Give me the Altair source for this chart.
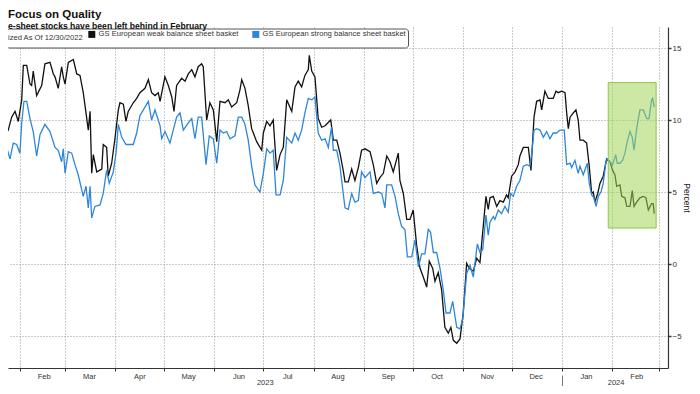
import altair as alt
import pandas as pd

# ---------------- data ----------------
series_names = ["GS European weak balance sheet basket",
                "GS European strong balance sheet basket"]
series_colors = ["#111111", "#2e86d9"]

# day offsets counted from 2023-01-01
weak_days = [18.9, 20.0, 22.0, 24.0, 26.1, 28.2, 30.2, 32.3, 33.3, 35.4, 37.4, 38.4, 39.4, 41.5,
             44.6, 46.6, 49.7, 51.8, 52.8, 54.8, 56.9, 57.9, 59.0, 61.0, 64.1, 66.2, 68.2, 70.2,
             71.9, 73.3, 74.4, 75.4, 76.4, 78.5, 81.6, 82.5, 84.6, 85.6, 87.7, 89.7, 91.8, 92.8,
             94.9, 96.5, 97.9, 101.0, 103.1, 105.1, 108.2, 110.3, 112.3, 114.4, 116.4, 117.5,
             120.5, 122.6, 124.7, 126.1, 127.7, 130.8, 132.9, 134.9, 137.0, 139.0, 141.0, 143.1,
             144.1, 146.2, 148.2, 150.3, 152.4, 154.4, 157.5, 159.5, 161.6, 164.7, 166.7, 167.8,
             169.8, 171.8, 173.9, 177.0, 180.1, 181.1, 183.2, 185.2, 187.2, 189.3, 191.4, 193.4,
             195.5, 198.6, 200.6, 202.6, 204.7, 206.7, 208.8, 209.4, 210.9, 212.9, 214.9, 217.0,
             219.1, 222.6, 224.2, 226.3, 228.3, 230.3, 231.4, 233.4, 235.5, 237.5, 239.6, 241.6,
             243.7, 246.8, 248.8, 250.9, 252.9, 255.0, 257.1, 259.1, 261.1, 264.2, 265.2, 267.3,
             269.4, 271.4, 273.4, 275.5, 277.6, 279.6, 281.7, 283.3, 285.4, 286.8, 288.8, 290.9,
             292.9, 295.0, 296.6, 298.1, 300.2, 302.2, 304.2, 306.3, 307.9, 310.4, 312.5, 314.5,
             316.5, 318.2, 319.6, 320.7, 322.7, 324.8, 326.8, 328.9, 330.9, 331.9, 334.0, 336.1,
             338.1, 339.1, 341.2, 344.3, 345.9, 347.8, 349.4, 351.5, 352.5, 354.5, 356.6, 359.6,
             361.3, 362.7, 364.8, 366.9, 367.9, 368.9, 370.0, 372.0, 373.6, 375.0, 376.1, 378.1,
             380.2, 381.8, 383.3, 384.3, 385.3, 387.0, 388.4, 390.4, 391.1, 392.5, 394.6, 396.2,
             397.6, 398.7, 400.7, 401.8, 403.8, 404.9, 406.9, 408.3, 409.4, 411.0, 413.0, 415.1,
             416.7, 418.2, 420.2, 421.2, 421.8]
weak_vals = [10.2, 8.8, 9.5, 9.3, 10.2, 10.6, 9.9, 11.4, 13.8, 13.8, 12.5, 12.4, 13.4, 11.7,
             12.4, 13.9, 14.0, 13.2, 13.0, 12.2, 13.7, 13.0, 12.5, 14.0, 14.2, 13.2, 13.1, 11.9,
             10.5, 9.3, 10.6, 6.3, 7.6, 6.4, 6.6, 8.3, 8.1, 6.1, 7.0, 8.7, 10.7, 11.2,
             11.1, 9.9, 10.6, 11.2, 11.5, 11.9, 12.2, 12.8, 11.9, 11.7, 11.9, 11.3,
             13.0, 12.4, 11.6, 10.6, 12.4, 12.9, 12.7, 13.2, 13.5, 13.0, 13.7, 13.9,
             13.7, 10.0, 11.2, 10.7, 8.5, 11.3, 11.2, 11.4, 10.9, 11.2, 12.1, 12.8,
             12.2, 11.0, 9.4, 8.5, 7.9, 9.1, 9.9, 9.6, 10.0, 6.5, 7.6, 8.1,
             11.4, 10.6, 12.3, 12.7, 12.3, 13.1, 13.5, 14.5, 13.4, 13.0, 10.1, 9.5,
             9.6, 10.0, 8.6, 8.6, 7.7, 6.5, 5.7, 5.7, 6.6, 5.8, 6.7, 7.9,
             8.0, 7.8, 6.9, 5.6, 6.0, 6.3, 7.5, 7.1, 6.4, 7.7, 5.8, 4.9,
             3.1, 3.1, 3.75, 1.3, -0.3, -0.9, -1.6, 0.2, -0.3, -1.2, -0.6, -1.8,
             -4.4, -4.8, -4.4, -5.3, -5.5, -5.2, -3.4, 0.05, -0.3, -0.5, 0.4, 0.1,
             2.6, 4.7, 3.8, 4.6, 4.7, 4.0, 4.4, 4.3, 4.8, 4.6, 6.1, 6.4,
             6.9, 7.5, 8.1, 8.1, 6.5, 10.2, 11.3, 11.4, 10.7, 12.0, 11.5, 11.5,
             12.0, 11.9, 12.0, 11.9, 10.5, 9.4, 10.2, 10.5, 10.7, 10.0, 8.6, 8.6,
             8.4, 6.8, 4.9, 5.0, 4.3, 4.9, 5.6, 6.1, 6.5, 7.3, 7.1, 6.5,
             6.2, 5.4, 5.5, 4.7, 4.6, 4.0, 4.0, 5.1, 4.0, 4.3, 4.6, 4.7,
             4.6, 3.75, 4.2, 4.2, 3.5]

strong_days = [18.9, 20.0, 22.0, 23.0, 25.1, 27.1, 29.2, 31.2, 32.3, 33.7, 35.4, 37.4, 39.4, 41.5,
               43.6, 46.6, 49.7, 52.8, 54.8, 56.9, 57.9, 59.0, 61.0, 63.1, 65.1, 67.1, 70.2, 71.9,
               73.3, 74.4, 75.4, 77.4, 80.5, 82.5, 84.6, 86.2, 88.7, 90.4, 91.8, 93.9, 96.5, 101.0,
               103.1, 105.1, 107.2, 110.3, 112.3, 114.4, 116.4, 117.5, 118.5, 120.5, 123.6, 125.6,
               127.7, 129.8, 131.8, 134.9, 137.0, 139.0, 141.0, 143.1, 145.8, 147.8, 150.3, 152.4,
               154.4, 156.4, 158.5, 160.6, 163.6, 165.7, 167.8, 169.8, 171.8, 173.9, 175.9, 179.0,
               181.1, 183.2, 185.2, 187.2, 188.9, 191.4, 193.4, 195.5, 198.6, 200.6, 202.6, 204.7,
               206.7, 208.8, 210.9, 212.9, 214.9, 217.0, 219.1, 221.1, 223.1, 224.2, 226.3, 228.3,
               230.3, 231.4, 233.4, 235.5, 237.5, 239.6, 241.6, 243.7, 246.8, 248.8, 251.9, 254.0,
               256.0, 257.1, 260.1, 262.2, 264.2, 266.3, 268.3, 269.8, 272.5, 274.5, 276.6, 278.6,
               280.6, 282.7, 284.1, 285.8, 287.8, 289.9, 291.9, 293.6, 296.0, 297.7, 300.2, 302.2,
               303.9, 306.3, 308.4, 310.4, 312.9, 314.5, 316.2, 318.2, 319.6, 320.7, 322.7, 323.7,
               325.8, 327.8, 329.9, 331.9, 333.4, 335.0, 337.1, 339.1, 341.2, 343.3, 345.3, 346.4,
               347.8, 349.4, 351.5, 353.5, 355.6, 357.6, 359.6, 361.7, 363.8, 366.4, 367.9, 370.0,
               371.0, 373.0, 375.0, 376.1, 378.1, 380.6, 381.8, 383.3, 384.7, 386.0, 387.4, 389.0,
               390.4, 392.1, 392.9, 394.6, 396.2, 398.1, 399.0, 400.7, 402.3, 403.8, 405.2, 406.9,
               408.3, 409.4, 411.0, 413.0, 415.1, 417.2, 418.6, 420.2, 420.9, 421.8]
strong_vals = [7.9, 6.8, 7.0, 8.1, 7.3, 8.4, 8.3, 7.7, 9.8, 11.3, 11.3, 10.1, 9.2, 7.5,
               9.0, 9.7, 9.2, 8.1, 7.9, 7.1, 8.0, 6.3, 7.8, 7.7, 6.9, 6.2, 4.7, 5.4,
               3.9, 5.4, 3.2, 4.0, 4.1, 4.9, 6.5, 5.6, 6.4, 7.7, 9.7, 8.8, 8.3, 8.3,
               9.1, 10.3, 10.7, 11.3, 10.0, 10.7, 10.0, 9.6, 8.7, 9.2, 8.4, 9.3,
               10.2, 10.5, 9.3, 9.8, 10.1, 8.7, 10.2, 10.2, 6.9, 8.9, 8.7, 7.0,
               9.3, 9.1, 9.2, 8.7, 8.9, 10.2, 10.2, 9.7, 8.6, 6.8, 5.5, 5.0,
               6.3, 8.0, 7.7, 7.9, 4.8, 4.8, 5.8, 8.8, 8.4, 9.1, 8.6, 9.3,
               10.5, 11.5, 11.4, 11.6, 9.1, 8.6, 8.7, 8.1, 9.5, 7.9, 7.9, 6.8,
               4.9, 3.9, 3.8, 4.9, 4.3, 4.4, 6.4, 6.0, 6.4, 4.9, 5.0, 4.9,
               3.9, 5.5, 5.5, 4.7, 3.5, 2.6, 2.4, 0.5, 0.5, 1.7, -0.2, 0.7,
               0.7, 2.4, 2.2, 0.8, 0.8, -0.3, -1.8, -3.4, -3.4, -2.6, -4.4, -4.5,
               -3.8, -0.65, -0.1, -0.9, 1.4, 0.8, 1.0, 3.4, 2.0, 2.9, 3.3, 3.1,
               3.75, 3.5, 4.0, 3.6, 4.9, 4.7, 5.4, 5.8, 6.8, 6.9, 6.8, 7.7,
               9.3, 9.4, 9.3, 8.8, 9.2, 8.7, 9.1, 9.1, 9.3, 9.3, 6.9, 7.0,
               6.7, 7.2, 6.3, 6.8, 6.2, 7.0, 5.6, 4.8, 4.6, 4.0, 4.7, 5.0,
               5.6, 7.1, 7.3, 7.1, 6.9, 7.6, 7.0, 7.0, 7.2, 7.7, 8.5, 9.2,
               8.8, 7.9, 9.4, 10.7, 10.7, 10.1, 10.1, 11.4, 11.5, 10.9]

# highlighted window (days from 2023-01-01) and its value range
box_days = [393.5, 423.0]
box_vals = [2.5, 12.6]

y_ticks = [-5, 0, 5, 10, 15]
month_starts = [(2023, m) for m in range(2, 13)] + [(2024, 1), (2024, 2), (2024, 3)]
year_label_dates = [(2023, 7, 2), (2024, 2, 3)]
year_break = (2024, 1, 1)

title_text = "Focus on Quality"
subtitle_text = "e-sheet stocks have been left behind in February"
legend_title = "ized As Of 12/30/2022"
y_title = "Percent"

# ---------------- assembling ----------------
base = pd.Timestamp("2023-01-01")


def iso(days):
    return [(base + pd.Timedelta(days=d)).strftime("%Y-%m-%dT%H:%M:%SZ") for d in days]


df = pd.concat([
    pd.DataFrame({"date": iso(weak_days), "value": weak_vals, "series": series_names[0]}),
    pd.DataFrame({"date": iso(strong_days), "value": strong_vals, "series": series_names[1]}),
], ignore_index=True)

box_df = pd.DataFrame({"start": iso([box_days[0]]), "end": iso([box_days[1]]),
                       "low": [box_vals[0]], "high": [box_vals[1]]})
sep_df = pd.DataFrame({"date": ["%04d-%02d-%02dT00:00:00Z" % year_break]})

FONT = "Liberation Sans"
TXT = "#333333"

xscale = alt.Scale(type="utc", domain=[
    alt.DateTime(year=2023, month=1, date=24, hours=20, minutes=38, utc=True),
    alt.DateTime(year=2024, month=3, date=6, hours=7, minutes=12, utc=True)])
yscale = alt.Scale(domain=[-7.22, 16.46], nice=False, zero=False)

month_axis = alt.Axis(
    orient="bottom", title=None,
    values=[alt.DateTime(year=y, month=m, date=1, utc=True) for y, m in month_starts],
    labelExpr="(utcyear(datum.value) == 2024 && utcmonth(datum.value) == 2) ? '' : utcFormat(datum.value, '%b')",
    labelOffset=24, labelFlush=False, labelOverlap=False, labelBound=False,
    labelFont=FONT, labelFontSize=7.5, labelColor=TXT, labelPadding=1,
    tickSize=3, tickColor="#333", domainColor="#333", domainWidth=1.2,
    grid=True, gridColor="#999999", gridDash=[1, 2], gridWidth=1)

year_axis = alt.Axis(
    orient="bottom", title=None,
    values=[alt.DateTime(year=y, month=m, date=d, utc=True) for y, m, d in year_label_dates],
    labelExpr="utcFormat(datum.value, '%Y')",
    ticks=False, tickSize=0, domain=False, grid=False,
    labelFlush=False, labelOverlap=False, labelBound=False,
    labelFont=FONT, labelFontSize=7.5, labelColor=TXT, labelPadding=10)

sep_axis = alt.Axis(
    orient="bottom", title=None,
    values=[alt.DateTime(year=year_break[0], month=year_break[1], date=year_break[2], utc=True)],
    labels=False, domain=False, grid=False, tickSize=12, tickColor="#777", offset=7)

y_axis = alt.Axis(
    orient="right", values=y_ticks, title=y_title,
    titleFont=FONT, titleFontSize=8.5, titleFontWeight="normal", titleColor="#222222",
    titlePadding=0,
    labelFont=FONT, labelFontSize=8, labelColor=TXT, labelPadding=1,
    tickSize=3, tickWidth=1.5, tickColor="#333", domainColor="#333", domainWidth=1.2,
    grid=True, gridColor="#999999", gridDash=[1, 2], gridWidth=1)

legend = alt.Legend(
    orient="none", legendX=-2, legendY=1.5, direction="horizontal",
    title=legend_title, titleOrient="left", titleFont=FONT, titleFontSize=7.6,
    titleFontWeight="normal", titleColor=TXT, titlePadding=4, titleBaseline="middle",
    labelFont=FONT, labelFontSize=7.6, labelColor=TXT, labelLimit=300, labelOffset=3,
    symbolType="square", symbolSize=4, symbolStrokeWidth=5, symbolOpacity=1,
    columnPadding=5, padding=2, strokeColor="#555", cornerRadius=3, fillColor="white")

lines = alt.Chart(df).mark_line(strokeWidth=1.3, clip=True).encode(
    x=alt.X("date:T", scale=xscale, axis=month_axis),
    y=alt.Y("value:Q", scale=yscale, axis=y_axis),
    color=alt.Color("series:N", scale=alt.Scale(domain=series_names, range=series_colors),
                    legend=legend),
)

box = alt.Chart(box_df).mark_rect(fill="#a2d65a", fillOpacity=0.55, stroke="#8cc84b",
                                  strokeWidth=1).encode(
    x=alt.X("start:T", scale=xscale, axis=year_axis),
    x2="end:T",
    y=alt.Y("low:Q", scale=yscale, axis=None),
    y2="high:Q",
)

sep = alt.Chart(sep_df).mark_rule(strokeOpacity=0).encode(
    x=alt.X("date:T", scale=xscale, axis=sep_axis),
)

chart = alt.layer(lines, box, sep).resolve_axis(x="independent", y="independent").properties(
    width=660, height=341,
    autosize=alt.AutoSizeParams(type="none"),
    padding={"left": 0, "top": 19, "right": 24, "bottom": 18},
    background="white",
    title=alt.TitleParams(
        text=title_text, subtitle=subtitle_text, anchor="start", frame="group",
        font=FONT, fontSize=11.5, fontWeight="bold", color="#111111",
        subtitleFont=FONT, subtitleFontSize=8.6, subtitleFontWeight="bold",
        subtitleColor="#111111", subtitlePadding=1, offset=-3.5),
).configure_view(stroke=None)

chart.save("out.html", embed_options={"renderer": "svg", "actions": False})
